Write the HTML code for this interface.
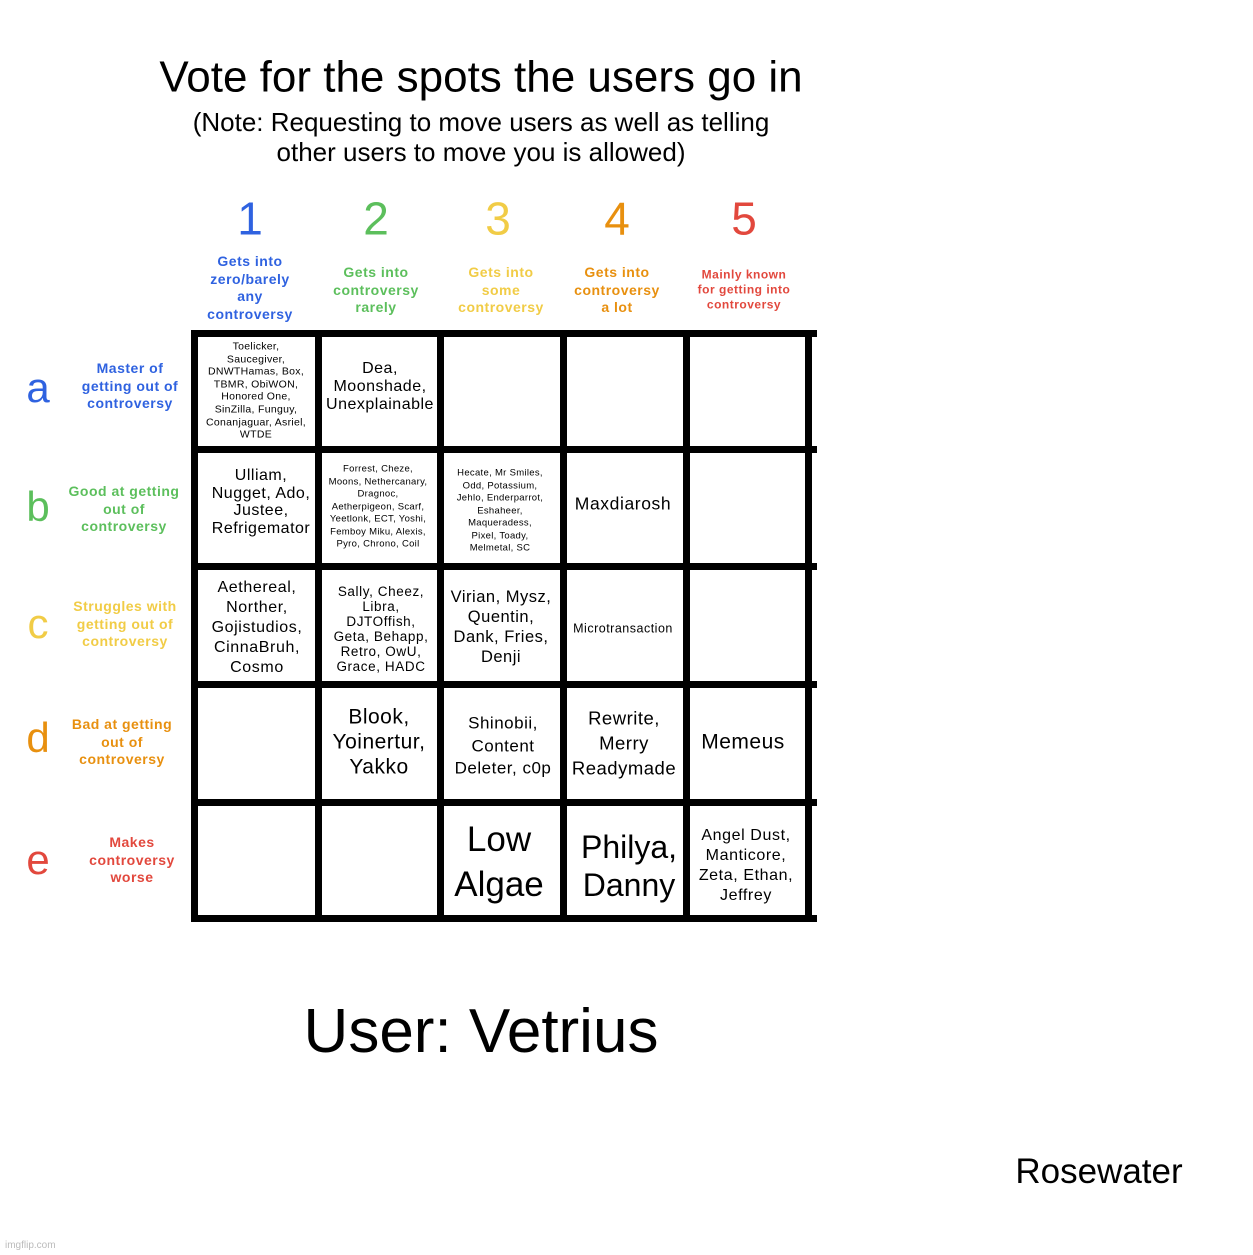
<!DOCTYPE html>
<html><head><meta charset="utf-8"><style>
body{margin:0;width:1253px;height:1255px;background:#fff;position:relative;overflow:hidden;font-family:"Liberation Sans",sans-serif;}
.t{position:absolute;text-align:center;transform:translate(-50%,-50%);white-space:nowrap;line-height:1.2;}
.b{position:absolute;background:#000;}
.bl{color:#2f62e0}.gr{color:#5cbf5c}.ye{color:#f1cc46}.or{color:#e8900f}.re{color:#e2483d}
.h{font-size:14px;font-weight:bold;letter-spacing:.5px;line-height:1.25}
</style></head><body>
<div class="t" style="left:481px;top:78px;font-size:44px">Vote for the spots the users go in</div>
<div class="t" style="left:481px;top:137px;font-size:26px;line-height:30px">(Note: Requesting to move users as well as telling<br>other users to move you is allowed)</div>

<div class="t bl" style="left:250px;top:219px;font-size:46px">1</div>
<div class="t gr" style="left:376px;top:219px;font-size:46px">2</div>
<div class="t ye" style="left:498px;top:219px;font-size:46px">3</div>
<div class="t or" style="left:617px;top:219px;font-size:46px">4</div>
<div class="t re" style="left:744px;top:219px;font-size:46px">5</div>

<div class="t bl h" style="left:250px;top:288px">Gets into<br>zero/barely<br>any<br>controversy</div>
<div class="t gr h" style="left:376px;top:290px">Gets into<br>controversy<br>rarely</div>
<div class="t ye h" style="left:501px;top:290px">Gets into<br>some<br>controversy</div>
<div class="t or h" style="left:617px;top:290px">Gets into<br>controversy<br>a lot</div>
<div class="t re h" style="left:744px;top:290px;font-size:12px">Mainly known<br>for getting into<br>controversy</div>

<div class="t bl" style="left:38px;top:388px;font-size:42px">a</div>
<div class="t gr" style="left:38px;top:507px;font-size:42px">b</div>
<div class="t ye" style="left:38px;top:624px;font-size:42px">c</div>
<div class="t or" style="left:38px;top:738px;font-size:42px">d</div>
<div class="t re" style="left:38px;top:860px;font-size:42px">e</div>

<div class="t bl h" style="left:130px;top:386px">Master of<br>getting out of<br>controversy</div>
<div class="t gr h" style="left:124px;top:509px">Good at getting<br>out of<br>controversy</div>
<div class="t ye h" style="left:125px;top:624px">Struggles with<br>getting out of<br>controversy</div>
<div class="t or h" style="left:122px;top:742px">Bad at getting<br>out of<br>controversy</div>
<div class="t re h" style="left:132px;top:860px">Makes<br>controversy<br>worse</div>

<div class="b" style="left:191px;top:330px;width:626px;height:7px"></div>
<div class="b" style="left:191px;top:446px;width:626px;height:7px"></div>
<div class="b" style="left:191px;top:563px;width:626px;height:7px"></div>
<div class="b" style="left:191px;top:681px;width:626px;height:7px"></div>
<div class="b" style="left:191px;top:799px;width:626px;height:7px"></div>
<div class="b" style="left:191px;top:915px;width:626px;height:7px"></div>
<div class="b" style="left:191px;top:330px;width:7px;height:592px"></div>
<div class="b" style="left:315px;top:330px;width:7px;height:592px"></div>
<div class="b" style="left:437px;top:330px;width:7px;height:592px"></div>
<div class="b" style="left:560px;top:330px;width:7px;height:592px"></div>
<div class="b" style="left:683px;top:330px;width:7px;height:592px"></div>
<div class="b" style="left:805px;top:330px;width:7px;height:592px"></div>

<div class="t" style="left:256px;top:391px;font-size:10.5px;line-height:12.6px;letter-spacing:.3px">Toelicker,<br>Saucegiver,<br>DNWTHamas, Box,<br>TBMR, ObiWON,<br>Honored One,<br>SinZilla, Funguy,<br>Conanjaguar, Asriel,<br>WTDE</div>
<div class="t" style="left:380px;top:387px;font-size:16px;line-height:18px;letter-spacing:.5px">Dea,<br>Moonshade,<br>Unexplainable</div>
<div class="t" style="left:261px;top:502px;font-size:16px;line-height:17.5px;letter-spacing:.5px">Ulliam,<br>Nugget, Ado,<br>Justee,<br>Refrigemator</div>
<div class="t" style="left:378px;top:507px;font-size:9.5px;line-height:12.5px;letter-spacing:.3px">Forrest, Cheze,<br>Moons, Nethercanary,<br>Dragnoc,<br>Aetherpigeon, Scarf,<br>Yeetlonk, ECT, Yoshi,<br>Femboy Miku, Alexis,<br>Pyro, Chrono, Coil</div>
<div class="t" style="left:500px;top:511px;font-size:9.5px;line-height:12.5px;letter-spacing:.3px">Hecate, Mr Smiles,<br>Odd, Potassium,<br>Jehlo, Enderparrot,<br>Eshaheer,<br>Maqueradess,<br>Pixel, Toady,<br>Melmetal, SC</div>
<div class="t" style="left:623px;top:504px;font-size:17.5px;letter-spacing:.6px">Maxdiarosh</div>
<div class="t" style="left:257px;top:628px;font-size:16px;line-height:20px;letter-spacing:.6px">Aethereal,<br>Norther,<br>Gojistudios,<br>CinnaBruh,<br>Cosmo</div>
<div class="t" style="left:381px;top:629px;font-size:13.5px;line-height:15px;letter-spacing:.6px">Sally, Cheez,<br>Libra,<br>DJTOffish,<br>Geta, Behapp,<br>Retro, OwU,<br>Grace, HADC</div>
<div class="t" style="left:501px;top:627px;font-size:16.5px;line-height:20px;letter-spacing:.5px">Virian, Mysz,<br>Quentin,<br>Dank, Fries,<br>Denji</div>
<div class="t" style="left:623px;top:629px;font-size:12.5px;letter-spacing:.5px">Microtransaction</div>
<div class="t" style="left:379px;top:742px;font-size:21px;line-height:25px;letter-spacing:.5px">Blook,<br>Yoinertur,<br>Yakko</div>
<div class="t" style="left:503px;top:746px;font-size:17px;line-height:22.5px;letter-spacing:.5px">Shinobii,<br>Content<br>Deleter, c0p</div>
<div class="t" style="left:624px;top:743px;font-size:18.5px;line-height:25px;letter-spacing:.5px">Rewrite,<br>Merry<br>Readymade</div>
<div class="t" style="left:743px;top:742px;font-size:21px;letter-spacing:.5px">Memeus</div>
<div class="t" style="left:499px;top:862px;font-size:35px;line-height:45px">Low<br>Algae</div>
<div class="t" style="left:629px;top:866px;font-size:32px;line-height:38px">Philya,<br>Danny</div>
<div class="t" style="left:746px;top:866px;font-size:16px;line-height:20px;letter-spacing:.6px">Angel Dust,<br>Manticore,<br>Zeta, Ethan,<br>Jeffrey</div>

<div class="t" style="left:481px;top:1032px;font-size:62px">User: Vetrius</div>
<div class="t" style="left:1099px;top:1172px;font-size:35px">Rosewater</div>
<div style="position:absolute;left:5px;top:1240px;font-size:10px;color:#bbb">imgflip.com</div>
</body></html>
